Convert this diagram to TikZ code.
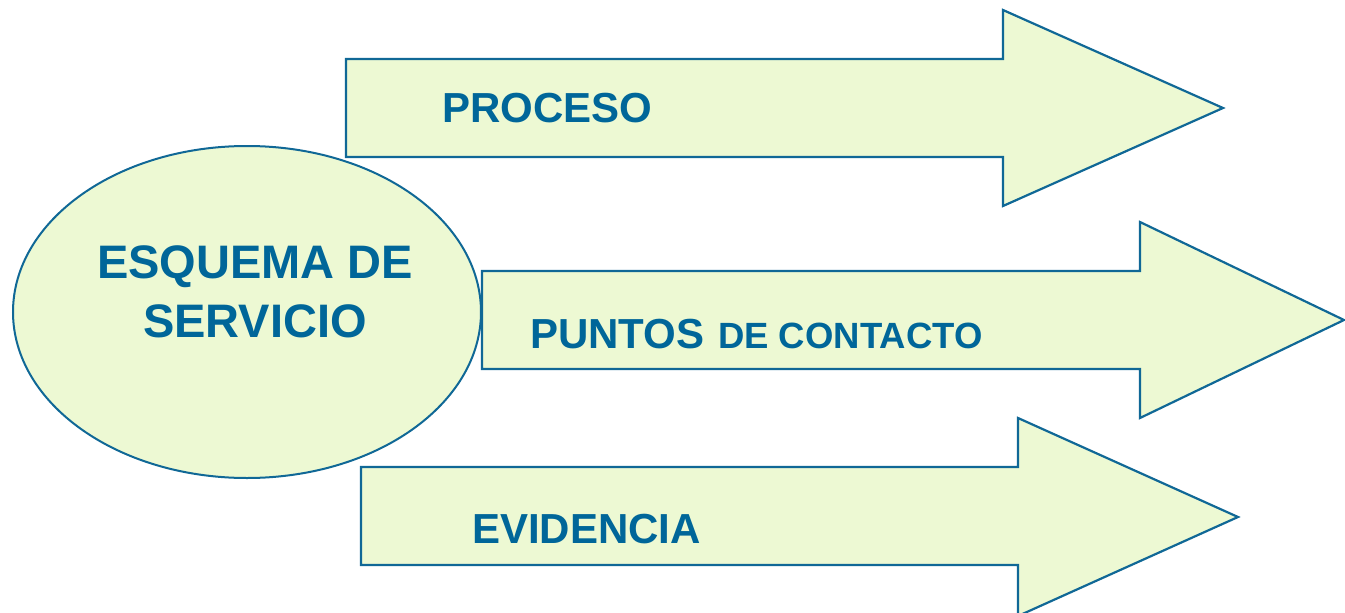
\documentclass[tikz,border=0pt]{standalone}
\usepackage{fontspec}
\setmainfont{Liberation Sans}
\usetikzlibrary{shapes.geometric}
\definecolor{shapefill}{RGB}{237,249,211}
\definecolor{shapeline}{RGB}{16,104,150}
\definecolor{labeltext}{RGB}{0,102,153}
\tikzset{
  arrowshape/.style={fill=shapefill, draw=shapeline, line width=2.2pt, line join=miter},
  lbl/.style={inner sep=0pt, text=labeltext, font=\bfseries\fontsize{42}{50}\selectfont},
  biglbl/.style={inner sep=0pt, text=labeltext, font=\bfseries\fontsize{47}{56}\selectfont}
}
\begin{document}
\begin{tikzpicture}[x=1pt,y=-1pt]
\useasboundingbox (0,0) rectangle (1345,613);
\clip (0,0) rectangle (1345,613);
% arrow 1
\draw[arrowshape] (346,59) -- (1003,59) -- (1003,10) -- (1223,108) -- (1003,206) -- (1003,157) -- (346,157) -- cycle;
% arrow 2
\draw[arrowshape] (482,271) -- (1140,271) -- (1140,222) -- (1344,320) -- (1140,418) -- (1140,369) -- (482,369) -- cycle;
% arrow 3
\draw[arrowshape] (361,467) -- (1018,467) -- (1018,418) -- (1238,517) -- (1018,616) -- (1018,565) -- (361,565) -- cycle;
% ellipse
\node[ellipse, fill=shapefill, draw=shapeline, line width=2pt, minimum width=468pt, minimum height=332pt, inner sep=0pt] (esq) at (247,312) {};
\node[biglbl, anchor=base] (esq1) at (255,278) {ESQUEMA DE};
\node[biglbl, anchor=base] (esq2) at (255,337) {SERVICIO};
% labels
\node[lbl, anchor=base] (proc) at (547.5,122) {PROCESO};
\node[lbl, anchor=base west] (punt) at (530,348) {PUNTOS\hspace{2pt} {\fontsize{36.5}{42}\selectfont DE CONTACTO}};
\node[lbl, anchor=base west] (evid) at (472,543) {EVIDENCIA};
\end{tikzpicture}
\end{document}
